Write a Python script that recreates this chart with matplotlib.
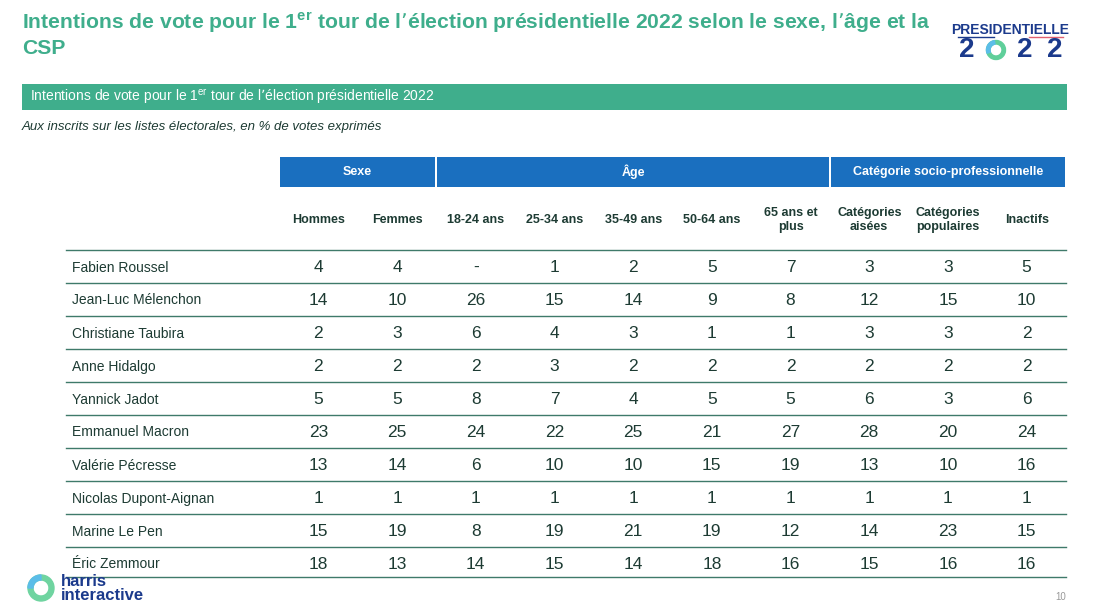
import matplotlib
matplotlib.use("Agg")
import matplotlib.pyplot as plt
from matplotlib.patches import Rectangle, Wedge

plt.rcParams["font.family"] = ["Liberation Sans", "DejaVu Sans"]
plt.rcParams["mathtext.default"] = "regular"

candidats = ["Fabien Roussel", "Jean-Luc Mélenchon", "Christiane Taubira", "Anne Hidalgo",
             "Yannick Jadot", "Emmanuel Macron", "Valérie Pécresse", "Nicolas Dupont-Aignan",
             "Marine Le Pen", "Éric Zemmour"]
colonnes = ["Hommes", "Femmes", "18-24 ans", "25-34 ans", "35-49 ans", "50-64 ans",
            "65 ans et\nplus", "Catégories\naisées", "Catégories\npopulaires", "Inactifs"]
groupes = [("Sexe", 0, 2), ("Âge", 2, 7), ("Catégorie socio-professionnelle", 7, 10)]
valeurs = [
    ["4", "4", "-", "1", "2", "5", "7", "3", "3", "5"],
    ["14", "10", "26", "15", "14", "9", "8", "12", "15", "10"],
    ["2", "3", "6", "4", "3", "1", "1", "3", "3", "2"],
    ["2", "2", "2", "3", "2", "2", "2", "2", "2", "2"],
    ["5", "5", "8", "7", "4", "5", "5", "6", "3", "6"],
    ["23", "25", "24", "22", "25", "21", "27", "28", "20", "24"],
    ["13", "14", "6", "10", "10", "15", "19", "13", "10", "16"],
    ["1", "1", "1", "1", "1", "1", "1", "1", "1", "1"],
    ["15", "19", "8", "19", "21", "19", "12", "14", "23", "15"],
    ["18", "13", "14", "15", "14", "18", "16", "15", "16", "16"],
]

TEAL = "#3fae8c"
BLUE = "#1a6fbf"
DARK = "#1d3b33"
NAVY = "#1b3a8c"

fig = plt.figure(figsize=(10.99, 6.02), dpi=100)
ax = fig.add_axes([0, 0, 1, 1])
ax.set_xlim(0, 1099)
ax.set_ylim(602, 0)
ax.axis("off")

# titre
ax.text(22, 23, "Intentions de vote pour le 1$^{er}$ tour de l\u2019élection présidentielle 2022 selon le sexe, l\u2019âge et la",
        fontsize=15.2, fontweight="bold", color=TEAL, va="center")
ax.text(22, 49, "CSP", fontsize=15.2, fontweight="bold", color=TEAL, va="center")

# logo présidentielle
ax.text(1010, 30, "PRESIDENTIELLE", fontsize=10, fontweight="bold", color=NAVY, ha="center", va="center")
ax.plot([958, 994], [37, 37], color=NAVY, lw=1)
ax.plot([1029, 1063], [37, 37], color="#e06070", lw=1)
for x, t in [(967, "2"), (1025, "2"), (1055, "2")]:
    ax.text(x, 50, t, fontsize=20, fontweight="bold", color=NAVY, ha="center", va="center")
ax.add_patch(Wedge((996, 50), 9.5, 0, 360, width=3.5, color="#5fcf9a"))
ax.add_patch(Wedge((996, 50), 9.5, 160, 260, width=3.5, color="#5bbde8"))

# bandeau
ax.add_patch(Rectangle((22, 84), 1045, 26, color=TEAL, lw=0))
ax.text(30, 97, "Intentions de vote pour le 1$^{er}$ tour de l\u2019élection présidentielle 2022",
        fontsize=10, color="white", va="center")
ax.text(22, 127, "Aux inscrits sur les listes électorales, en % de votes exprimés",
        fontsize=9.5, color=DARK, style="italic", va="center")

x0, w = 279, 78.7
centres = [x0 + w * (i + 0.5) for i in range(len(colonnes))]

for nom, a, b in groupes:
    ax.add_patch(Rectangle((x0 + w * a + 1, 157), w * (b - a) - 2, 30, color=BLUE, lw=0))
    ax.text(x0 + w * (a + b) / 2, 172, nom, fontsize=9, fontweight="bold", color="white",
            ha="center", va="center")

for cx, c in zip(centres, colonnes):
    ax.text(cx, 220, c, fontsize=9, fontweight="bold", color=DARK, ha="center", va="center",
            linespacing=1.3)

y_top, h = 250, 33
for i, (nom, row) in enumerate(zip(candidats, valeurs)):
    y = y_top + h * i
    ax.plot([66, 1066], [y, y], color="#3f7a6a", lw=1)
    yc = y + h / 2 + 1
    ax.text(72, yc, nom, fontsize=10, color=DARK, va="center")
    for cx, v in zip(centres, row):
        ax.text(cx, yc, v, fontsize=12.5, color=DARK, ha="center", va="center")
ax.plot([66, 1066], [y_top + h * 10 - 3, y_top + h * 10 - 3], color="#3f7a6a", lw=1)

# logo harris
ax.add_patch(Wedge((41, 588), 13, 0, 360, width=5, color="#6fd4a0"))
ax.add_patch(Wedge((41, 588), 13, 180, 270, width=5, color="#5bbde8"))
ax.text(61, 582, "harris", fontsize=12, fontweight="bold", color=NAVY, va="center")
ax.text(61, 596, "interactive", fontsize=12, fontweight="bold", color=NAVY, va="center")
ax.text(1066, 597, "10", fontsize=7, color="#999999", ha="right", va="center")

fig.savefig("out.png", dpi=100)
